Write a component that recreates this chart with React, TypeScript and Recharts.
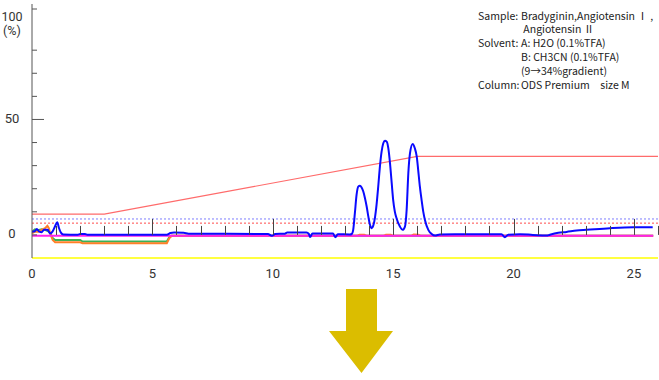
import React from 'react';
import {
  ComposedChart,
  Line,
  XAxis,
  YAxis,
  ReferenceLine,
} from 'recharts';

// chromatogram traces, [time (min), signal (%)]
const blueTrace = [
  [0, 1.4], [0.12, 1.6], [0.2, 2.6], [0.3, 1.4], [0.4, 1.2], [0.5, 2.2], [0.65, 2.2],
  [0.75, 0.6], [0.85, 1.4], [0.95, 3.5], [1.05, 5.5], [1.12, 3.0], [1.2, 1.0], [1.3, 0.2],
  [1.9, 0.1], [2.0, 0.4], [2.2, 0.4], [2.3, 0.1], [5.6, 0.1], [5.75, 0.8], [5.9, 1.0],
  [6.3, 0.9], [6.5, 0.5], [9.8, 0.4], [9.96, -0.4], [10.1, 0.4], [10.5, 0.5], [10.6, 1.0],
  [11.4, 1.0], [11.5, 0.4], [11.55, -0.9], [11.65, 0.6], [12.5, 0.6], [12.6, -1.0],
  [12.7, 0.3], [13.2, 0.2], [13.28, 0.4], [13.34, 2.2], [13.41, 9.4], [13.48, 17.3],
  [13.55, 20.9], [13.62, 21.3], [13.69, 20.5], [13.76, 18.8], [13.83, 15.9], [13.9, 12.3],
  [13.97, 7.9], [14.04, 4.3], [14.11, 2.9], [14.17, 3.9], [14.24, 7.2], [14.31, 13],
  [14.38, 20.9], [14.45, 29.6], [14.52, 36.1], [14.59, 39.7], [14.66, 40.8], [14.73, 40.4],
  [14.8, 37.5], [14.87, 31], [14.94, 22.4], [15.0, 15.2], [15.07, 10.1], [15.14, 7.2],
  [15.28, 3.6], [15.39, 2.2], [15.49, 3.6], [15.56, 10.8], [15.63, 26.7], [15.7, 35.4],
  [15.81, 39.4], [15.9, 37.5], [15.98, 33.9], [16.04, 28.1], [16.11, 20.9], [16.18, 15.2],
  [16.25, 10.1], [16.32, 6.5], [16.46, 2.2], [16.6, 0.4], [16.74, -0.3], [16.94, 0.2],
  [18, 0.3], [19.5, 0.3], [19.64, -1.0], [19.78, 0.1], [20.27, 0.3], [20.8, 0.0],
  [21.37, -0.3], [21.51, 0.1], [21.86, 0.9], [22.2, 1.3], [22.62, 1.9], [23.04, 2.2],
  [24.0, 2.9], [24.97, 3.3], [25.78, 3.3],
];

const greenTrace = [
  [0, 1.4], [0.12, 2.4], [0.26, 2.0], [0.4, 2.4], [0.54, 2.2], [0.7, 1.4], [0.78, 0.4],
  [0.86, -1.4], [0.96, -2.2], [2.0, -2.2], [2.1, -2.9], [5.6, -2.9], [5.7, -1.0],
  [5.8, -0.4], [25.8, -0.4],
];

const orangeTrace = [
  [0, 0.7], [0.12, 1.4], [0.26, 1.4], [0.4, 2.2], [0.54, 2.9], [0.64, 3.9], [0.7, 2.9],
  [0.75, 0.7], [0.86, -2.2], [0.96, -3.2], [2.0, -3.2], [2.1, -3.6], [5.6, -3.6],
  [5.7, -1.5], [5.8, -0.4], [13.5, -0.4], [13.6, 0.1], [13.8, 0.1], [13.9, -0.4],
  [14.6, -0.4], [14.7, 0.1], [14.9, 0.1], [15.0, -0.4], [15.75, -0.4], [15.85, 0.2],
  [16.05, 0.1], [16.15, -0.4], [25.8, -0.4],
];

const magentaTrace = [[0, -0.4], [25.8, -0.4]];

// %B gradient program
const gradient = [[0, 9], [3, 9], [16, 34], [26, 34]];

const thresholdBlue = 6.9;
const thresholdRed = 5.1;

// every minute gets a mark, every 5 min a label
const minuteTicks = [0, 1, 2, 3, 4, 5, 6, 7, 8, 9, 10, 11, 12, 13, 14, 15, 16, 17, 18, 19, 20, 21, 22, 23, 24, 25, 26];
const yTicks = [0, 10, 20, 30, 40, 50, 60, 70, 80, 90, 100];
const yDomain = [-10, 100];

const infoLabels = ['Sample:', '', 'Solvent:', '', '', 'Column:'];
const infoValues = [
  'Bradyginin,Angiotensin Ⅰ ,',
  ' Angiotensin Ⅱ',
  'A: H2O (0.1%TFA)',
  'B: CH3CN (0.1%TFA)',
  '(9→34%gradient)',
  'ODS Premium　size M',
];

const toPts = (arr: number[][]) => arr.map(([t, v]) => ({ t, v }));

const FONT = '"Noto Sans CJK JP", "Noto Sans", sans-serif';
const AXIS_FONT = 'Roboto, "Noto Sans", sans-serif';

const CHART_H = 380;
const MARGIN = { top: 4, right: 1, bottom: 92, left: 0 };
const X_AXIS_H = 30;
const PLOT_H = CHART_H - MARGIN.top - MARGIN.bottom - X_AXIS_H;
// distance from the bottom axis up to the 0 % line
const ZERO_LIFT = (PLOT_H * (0 - yDomain[0])) / (yDomain[1] - yDomain[0]);

function XTick(props: any) {
  const { x, y, payload } = props;
  const m = payload.value;
  const zeroY = y - ZERO_LIFT;
  const mx = Math.round(x) + 0.5;
  return (
    <g>
      {m > 0 && (
        <line x1={mx} x2={mx} y1={zeroY} y2={zeroY - (m % 5 === 0 ? 16 : 9)} stroke="#444" strokeWidth={1} />
      )}
      {m % 5 === 0 && m < 26 && (
        <text x={x} y={y + 15} textAnchor="middle" dominantBaseline="central" fontSize={13} fill="#333" fontFamily={AXIS_FONT}>{m}</text>
      )}
    </g>
  );
}

function YTick(props: any) {
  const { x, y, payload } = props;
  const v = payload.value;
  const len = v === 50 ? 12 : 5;
  return (
    <g>
      <line x1={x} x2={x + len} y1={y} y2={y} stroke="#555" />
      {v === 100 && (
        <>
          <text x={12} y={y + 7} textAnchor="middle" dominantBaseline="central" fontSize={12.5} fill="#333" fontFamily={AXIS_FONT}>100</text>
          <text x={12} y={y + 21} textAnchor="middle" dominantBaseline="central" fontSize={12.5} fill="#333" fontFamily={AXIS_FONT}>(%)</text>
        </>
      )}
      {(v === 0 || v === 50) && (
        <text x={12} y={y - 1} textAnchor="middle" dominantBaseline="central" fontSize={13} fill="#333" fontFamily={AXIS_FONT}>{v}</text>
      )}
    </g>
  );
}

export default function App() {
  return (
    <div style={{ position: 'absolute', left: 0, top: 0, width: 659, height: CHART_H, background: '#fff' }}>
      <ComposedChart width={659} height={CHART_H} margin={MARGIN}>
        <XAxis
          dataKey="t"
          type="number"
          domain={[0, 26]}
          ticks={minuteTicks}
          interval={0}
          allowDataOverflow
          height={X_AXIS_H}
          axisLine={{ stroke: '#ffff00', strokeWidth: 1.5 }}
          tickLine={false}
          tickSize={0}
          tickMargin={0}
          tick={<XTick />}
        />
        <YAxis
          type="number"
          domain={yDomain}
          ticks={yTicks}
          allowDataOverflow
          width={32}
          axisLine={{ stroke: '#555' }}
          tickLine={false}
          tickSize={0}
          tickMargin={0}
          tick={<YTick />}
        />
        <ReferenceLine y={thresholdBlue} stroke="#7d7dff" strokeDasharray="2 2" />
        <ReferenceLine y={thresholdRed} stroke="#ff4a4a" strokeDasharray="2 2" />
        <Line data={toPts(gradient)} dataKey="v" type="linear" stroke="#ff6b6b" strokeWidth={1.2} dot={false} isAnimationActive={false} />
        <Line data={toPts(greenTrace)} dataKey="v" type="linear" stroke="#3cb054" strokeWidth={2} dot={false} isAnimationActive={false} />
        <Line data={toPts(orangeTrace)} dataKey="v" type="linear" stroke="#ff7f27" strokeWidth={2} dot={false} isAnimationActive={false} />
        <Line data={toPts(magentaTrace)} dataKey="v" type="linear" stroke="#ff22ee" strokeWidth={2} dot={false} isAnimationActive={false} />
        <Line data={toPts(blueTrace)} dataKey="v" type="monotone" stroke="#0a0aff" strokeWidth={2} dot={false} isAnimationActive={false} />
      </ComposedChart>
      <svg width={659} height={CHART_H} style={{ position: 'absolute', left: 0, top: 0, pointerEvents: 'none' }}>
        {infoLabels.map((l, i) => (
          <text key={'l' + i} x={478} y={15 + i * 13.8} dominantBaseline="central" fontSize={10.5} fill="#222" fontFamily={FONT}>{l}</text>
        ))}
        {infoValues.map((v, i) => (
          <text key={'v' + i} x={521} y={15 + i * 13.8} dominantBaseline="central" fontSize={10.5} fill="#222" fontFamily={FONT} xmlSpace="preserve">{v}</text>
        ))}
        <polygon points="346,289 377,289 377,331 393,331 361.5,373 329,331 346,331" fill="#dbbd00" />
      </svg>
    </div>
  );
}
